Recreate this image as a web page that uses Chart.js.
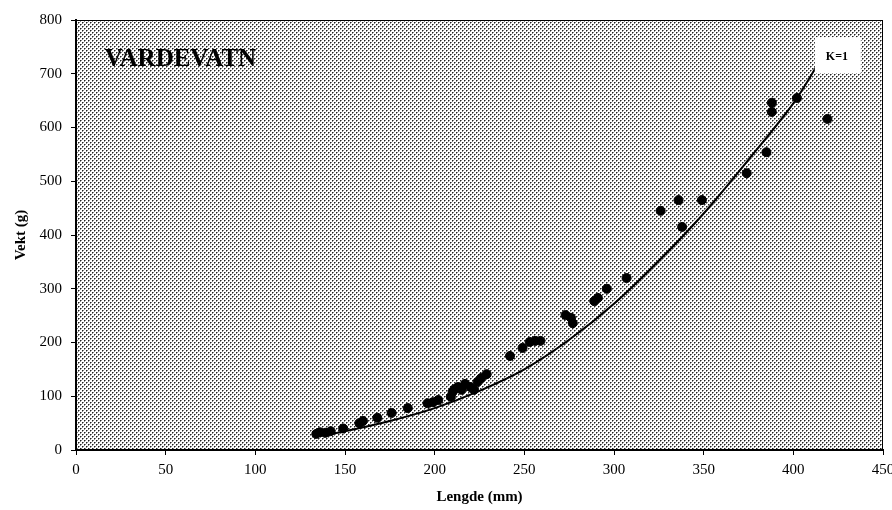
<!DOCTYPE html>
<html>
<head>
<meta charset="utf-8">
<script src="https://cdn.jsdelivr.net/npm/chart.js@4.4.1/dist/chart.umd.min.js"></script>
<style>
  html, body { margin: 0; padding: 0; background: #fff; }
  #wrap { width: 892px; height: 510px; }
</style>
</head>
<body>
<div id="wrap"><canvas id="c" width="892" height="510"></canvas></div>
<script>
// målte fisk: lengde (mm) og vekt (g)
var lengde = [134, 136, 139, 142, 149, 158, 160, 168, 176, 185, 196, 199, 202, 209, 210, 211, 213, 215,
  217, 220, 222, 224, 226, 229, 242, 249, 253, 256, 259, 273, 276, 277, 289, 291, 296, 307,
  326, 336, 338, 349, 374, 385, 388, 388, 402, 419];
var vekt = [30, 33, 32, 35, 40, 50, 54, 60, 69, 78, 87, 89, 93, 99, 108, 113, 117, 112,
  123, 117, 112, 127, 134, 141, 175, 190, 201, 203, 203, 251, 246, 236, 277, 283, 300, 320,
  445, 465, 415, 465, 515, 554, 646, 629, 655, 616];

// kurve for K=1
var kurveLengde = [135, 150, 175, 200, 225, 250, 275, 300, 325, 350, 375, 400, 415];
var kurveVekt = [26, 35, 54, 78, 110, 150, 205, 272, 352, 440, 540, 645, 725];

var xTicks = [0, 50, 100, 150, 200, 250, 300, 350, 400, 450];
var yTicks = [0, 100, 200, 300, 400, 500, 600, 700, 800];

var punkter = lengde.map(function (l, i) { return { x: l, y: vekt[i] }; });
var kurve = kurveLengde.map(function (l, i) { return { x: l, y: kurveVekt[i] }; });

// rastermønster som bakgrunn i plottet
function lagMonster(ctx) {
  var p = document.createElement('canvas');
  p.width = 4; p.height = 4;
  var g = p.getContext('2d');
  g.fillStyle = '#fff';
  g.fillRect(0, 0, 4, 4);
  [[0, 0], [2, 2]].forEach(function (d) {
    g.fillStyle = '#222';
    g.fillRect(d[0], d[1], 1, 1);
    g.fillStyle = '#888';
    g.fillRect(d[0] + 1, d[1], 1, 1);
    g.fillRect(d[0], d[1] + 1, 1, 1);
  });
  return ctx.createPattern(p, 'repeat');
}

var bakgrunn = {
  id: 'bakgrunn',
  beforeDatasetsDraw: function (chart) {
    var a = chart.chartArea, ctx = chart.ctx;
    ctx.save();
    ctx.fillStyle = lagMonster(ctx);
    ctx.fillRect(a.left, a.top, a.right - a.left, a.bottom - a.top);
    ctx.strokeStyle = '#000';
    ctx.lineWidth = 1;
    ctx.strokeRect(a.left + 0.5, a.top + 0.5, a.right - a.left - 1, a.bottom - a.top - 1);
    ctx.restore();
  },
  afterDatasetsDraw: function (chart) {
    var ctx = chart.ctx, x = chart.scales.x, y = chart.scales.y;
    ctx.save();
    ctx.fillStyle = '#000';
    ctx.font = 'bold 25px "Liberation Serif"';
    ctx.textBaseline = 'middle';
    ctx.fillText('VARDEVATN', x.getPixelForValue(16), y.getPixelForValue(727));
    // K=1 boks
    var bx = x.getPixelForValue(412), by = y.getPixelForValue(768);
    ctx.fillStyle = '#fff';
    ctx.fillRect(bx, by, 46, 36);
    ctx.fillStyle = '#000';
    ctx.font = 'bold 12px "Liberation Serif"';
    ctx.fillText('K=1', bx + 11, by + 20);
    ctx.restore();
  }
};

new Chart(document.getElementById('c'), {
  type: 'scatter',
  data: {
    datasets: [{
      data: punkter,
      backgroundColor: '#000',
      borderColor: '#000',
      pointRadius: 4.5,
      pointHoverRadius: 4.5
    }, {
      type: 'line',
      data: kurve,
      borderColor: '#000',
      borderWidth: 2,
      pointRadius: 0,
      tension: 0.3,
      fill: false
    }]
  },
  options: {
    responsive: false,
    animation: false,
    layout: { padding: { top: 20, right: 9, left: 0, bottom: 0 } },
    plugins: { legend: { display: false }, tooltip: { enabled: false } },
    scales: {
      x: {
        type: 'linear', min: 0, max: 450,
        afterBuildTicks: function (s) { s.ticks = xTicks.map(function (v) { return { value: v }; }); },
        afterFit: function (s) { s.height = 60; s.paddingRight = 0; s.paddingLeft = 0; },
        border: { color: '#000', width: 2 },
        grid: { drawOnChartArea: false, drawTicks: true, tickLength: 5, color: '#000' },
        ticks: { color: '#000', font: { family: '"Liberation Serif"', size: 15 }, padding: 6, maxRotation: 0 },
        title: { display: true, text: 'Lengde (mm)', color: '#000', font: { family: '"Liberation Serif"', size: 15, weight: 'bold' }, padding: { top: 4 } }
      },
      y: {
        type: 'linear', min: 0, max: 800,
        afterBuildTicks: function (s) { s.ticks = yTicks.map(function (v) { return { value: v }; }); },
        afterFit: function (s) { s.width = 76; },
        border: { color: '#000', width: 2 },
        grid: { drawOnChartArea: false, drawTicks: true, tickLength: 5, color: '#000' },
        ticks: { color: '#000', font: { family: '"Liberation Serif"', size: 15 }, padding: 9 },
        title: { display: true, text: 'Vekt (g)', color: '#000', font: { family: '"Liberation Serif"', size: 15, weight: 'bold' }, padding: { top: 12, bottom: 4 } }
      }
    }
  },
  plugins: [bakgrunn]
});
</script>
</body>
</html>
